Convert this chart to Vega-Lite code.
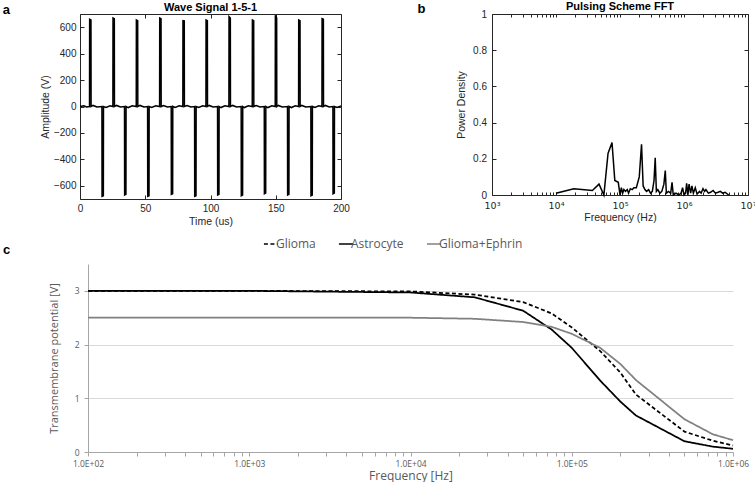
{
  "$schema": "https://vega.github.io/schema/vega-lite/v6.json",
  "background": "white",
  "padding": {"left": 2, "top": 0, "right": 0, "bottom": 0},
  "config": {
    "view": {"stroke": null},
    "title": {"font": "Liberation Sans", "fontSize": 11, "fontWeight": "bold", "color": "#000000", "offset": -9},
    "axis": {
      "labelFont": "Liberation Sans", "labelFontSize": 10, "labelColor": "#262626",
      "titleFont": "Liberation Sans", "titleFontSize": 10.5, "titleFontWeight": "normal", "titleColor": "#262626",
      "tickColor": "#262626", "tickSize": -4, "labelPadding": 8, "domain": false, "grid": false,
      "labelFlush": false, "labelOverlap": false, "titlePadding": 3
    }
  },
  "spacing": 9,
  "columns": 1,
  "align": "none",
  "resolve": {"legend": {"color": "independent", "strokeDash": "independent"}},
  "concat": [
    {
      "spacing": 67,
      "hconcat": [
        {
          "width": 261, "height": 185,
          "view": {"stroke": "#262626", "strokeWidth": 1},
          "title": {"text": "Wave Signal 1-5-1"},
          "resolve": {"axis": {"x": "independent", "y": "independent"}},
          "layer": [
            {
              "data": {"values": [
                {"t":0,"v":0},{"t":3,"v":5},{"t":5,"v":-3},
                {"t":7.3,"v":0},{"t":7.4,"v":660},{"t":8.4,"v":655},{"t":8.5,"v":0},{"t":10,"v":8},{"t":13,"v":-4},
                {"t":16.8,"v":0},{"t":16.9,"v":-680},{"t":17.9,"v":-675},{"t":18.0,"v":0},{"t":20,"v":-8},{"t":23,"v":5},
                {"t":25.2,"v":0},{"t":25.3,"v":670},{"t":26.3,"v":665},{"t":26.4,"v":0},{"t":28,"v":8},{"t":31,"v":-4},
                {"t":34.1,"v":0},{"t":34.2,"v":-670},{"t":35.2,"v":-665},{"t":35.3,"v":0},{"t":37,"v":-8},{"t":40,"v":5},
                {"t":43.1,"v":0},{"t":43.2,"v":655},{"t":44.2,"v":650},{"t":44.3,"v":0},{"t":46,"v":8},{"t":49,"v":-4},
                {"t":51.8,"v":0},{"t":51.9,"v":-680},{"t":52.9,"v":-675},{"t":53.0,"v":0},{"t":55,"v":-8},{"t":58,"v":5},
                {"t":61.0,"v":0},{"t":61.1,"v":670},{"t":62.1,"v":665},{"t":62.2,"v":0},{"t":64,"v":8},{"t":67,"v":-4},
                {"t":69.9,"v":0},{"t":70.0,"v":-665},{"t":71.0,"v":-660},{"t":71.1,"v":0},{"t":73,"v":-8},{"t":76,"v":5},
                {"t":78.8,"v":0},{"t":78.9,"v":650},{"t":79.9,"v":648},{"t":80.0,"v":0},{"t":82,"v":8},{"t":85,"v":-4},
                {"t":87.8,"v":0},{"t":87.9,"v":-680},{"t":88.9,"v":-675},{"t":89.0,"v":0},{"t":91,"v":-8},{"t":94,"v":5},
                {"t":96.5,"v":0},{"t":96.6,"v":655},{"t":97.6,"v":650},{"t":97.7,"v":0},{"t":99,"v":8},{"t":102,"v":-4},
                {"t":105.4,"v":0},{"t":105.5,"v":-670},{"t":106.5,"v":-665},{"t":106.6,"v":0},{"t":108,"v":-8},{"t":111,"v":5},
                {"t":114.1,"v":0},{"t":114.2,"v":680},{"t":115.2,"v":670},{"t":115.3,"v":0},{"t":117,"v":8},{"t":120,"v":-4},
                {"t":123.5,"v":0},{"t":123.6,"v":-675},{"t":124.6,"v":-670},{"t":124.7,"v":0},{"t":126,"v":-8},{"t":129,"v":5},
                {"t":132.0,"v":0},{"t":132.1,"v":655},{"t":133.1,"v":650},{"t":133.2,"v":0},{"t":135,"v":8},{"t":138,"v":-4},
                {"t":141.2,"v":0},{"t":141.3,"v":-660},{"t":142.3,"v":-655},{"t":142.4,"v":0},{"t":144,"v":-8},{"t":147,"v":5},
                {"t":149.6,"v":0},{"t":149.7,"v":690},{"t":150.7,"v":670},{"t":150.8,"v":0},{"t":152,"v":8},{"t":155,"v":-4},
                {"t":159.0,"v":0},{"t":159.1,"v":-670},{"t":160.1,"v":-665},{"t":160.2,"v":0},{"t":162,"v":-8},{"t":165,"v":5},
                {"t":167.5,"v":0},{"t":167.6,"v":655},{"t":168.6,"v":650},{"t":168.7,"v":0},{"t":170,"v":8},{"t":173,"v":-4},
                {"t":176.9,"v":0},{"t":177.0,"v":-675},{"t":178.0,"v":-670},{"t":178.1,"v":0},{"t":180,"v":-8},{"t":183,"v":5},
                {"t":185.4,"v":0},{"t":185.5,"v":665},{"t":186.5,"v":660},{"t":186.6,"v":0},{"t":188,"v":8},{"t":191,"v":-4},
                {"t":193.8,"v":0},{"t":193.9,"v":-660},{"t":194.9,"v":-655},{"t":195.0,"v":0},{"t":197,"v":-8},{"t":200,"v":5}
              ]},
              "mark": {"type": "line", "color": "#000000", "strokeWidth": 1.5},
              "encoding": {
                "x": {"field": "t", "type": "quantitative", "scale": {"domain": [0, 200], "nice": false},
                      "axis": {"orient": "bottom", "values": [0, 50, 100, 150, 200], "format": ".0f", "title": "Time (us)"}},
                "y": {"field": "v", "type": "quantitative", "scale": {"domain": [-700, 700], "nice": false},
                      "axis": {"orient": "left", "values": [-600, -400, -200, 0, 200, 400, 600], "format": ".0f", "title": "Amplitude (V)"}}
              }
            },
            {
              "data": {"values": [{"panel": "a"}]},
              "mark": {"type": "text", "font": "Liberation Sans", "fontSize": 13, "fontWeight": "bold", "align": "left", "baseline": "alphabetic", "color": "#000000"},
              "encoding": {
                "text": {"field": "panel"},
                "x": {"datum": -59.2, "type": "quantitative", "axis": {"orient": "top", "values": [0, 50, 100, 150, 200], "labels": false, "title": null}},
                "y": {"datum": 702, "type": "quantitative", "axis": {"orient": "right", "values": [-600, -400, -200, 0, 200, 400, 600], "labels": false, "title": null}}
              }
            }
          ]
        },
        {
          "width": 256, "height": 181,
          "view": {"stroke": "#262626", "strokeWidth": 1},
          "title": {"text": "Pulsing Scheme FFT"},
          "resolve": {"axis": {"x": "independent", "y": "independent"}},
          "layer": [
            {
              "data": {"values": [
                {"f":10000,"p":0.01},{"f":19000,"p":0.035},{"f":37000,"p":0.025},{"f":47000,"p":0.06},{"f":56000,"p":0.0},
                {"f":65000,"p":0.23},{"f":75000,"p":0.29},{"f":83000,"p":0.08},{"f":94000,"p":0.07},{"f":100000,"p":0.0},
                {"f":105000,"p":0.04},{"f":110000,"p":0.01},{"f":115000,"p":0.03},{"f":122000,"p":0.02},{"f":130000,"p":0.03},
                {"f":136000,"p":0.01},{"f":145000,"p":0.035},{"f":155000,"p":0.03},{"f":165000,"p":0.04},{"f":180000,"p":0.04},
                {"f":200000,"p":0.1},{"f":217000,"p":0.28},{"f":230000,"p":0.05},{"f":245000,"p":0.03},{"f":260000,"p":0.02},
                {"f":280000,"p":0.03},{"f":300000,"p":0.01},{"f":320000,"p":0.02},{"f":340000,"p":0.08},{"f":355000,"p":0.205},
                {"f":370000,"p":0.02},{"f":390000,"p":0.03},{"f":420000,"p":0.01},{"f":450000,"p":0.02},{"f":485000,"p":0.06},
                {"f":510000,"p":0.135},{"f":530000,"p":0.01},{"f":570000,"p":0.02},{"f":620000,"p":0.01},{"f":650000,"p":0.07},
                {"f":680000,"p":0.0},{"f":750000,"p":0.01},{"f":830000,"p":0.0},{"f":900000,"p":0.01},{"f":950000,"p":0.04},
                {"f":1000000,"p":0.0},{"f":1060000,"p":0.01},{"f":1100000,"p":0.065},{"f":1150000,"p":0.0},{"f":1200000,"p":0.06},
                {"f":1270000,"p":0.01},{"f":1330000,"p":0.05},{"f":1400000,"p":0.01},{"f":1500000,"p":0.04},{"f":1600000,"p":0.005},
                {"f":1750000,"p":0.02},{"f":1850000,"p":0.01},{"f":1980000,"p":0.035},{"f":2100000,"p":0.02},{"f":2200000,"p":0.03},
                {"f":2400000,"p":0.01},{"f":2600000,"p":0.015},{"f":2850000,"p":0.025},{"f":3100000,"p":0.01},{"f":3400000,"p":0.015},
                {"f":3700000,"p":0.02},{"f":4000000,"p":0.01},{"f":4400000,"p":0.015},{"f":5000000,"p":0.0}
              ]},
              "mark": {"type": "line", "color": "#000000", "strokeWidth": 1.5},
              "encoding": {
                "x": {"field": "f", "type": "quantitative", "scale": {"type": "log", "domain": [1000, 10000000]},
                      "axis": {"orient": "bottom", "tickSize": -3, "labelPadding": 8, "title": "Frequency (Hz)", "labelFont": "DejaVu Sans", "labelFontSize": 9.5,
                               "values": [1000,2000,3000,4000,5000,6000,7000,8000,9000,10000,20000,30000,40000,50000,60000,70000,80000,90000,100000,200000,300000,400000,500000,600000,700000,800000,900000,1000000,2000000,3000000,4000000,5000000,6000000,7000000,8000000,9000000,10000000],
                               "labelExpr": "datum.value == 1000 ? '10³' : datum.value == 10000 ? '10⁴' : datum.value == 100000 ? '10⁵' : datum.value == 1000000 ? '10⁶' : datum.value == 10000000 ? '10⁷' : ''"}},
                "y": {"field": "p", "type": "quantitative", "scale": {"domain": [0, 1], "nice": false},
                      "axis": {"orient": "left", "values": [0, 0.2, 0.4, 0.6, 0.8, 1], "format": ".1~f", "labelPadding": 9.5, "titlePadding": 6, "title": "Power Density"}}
              }
            },
            {
              "data": {"values": [{"panel": "b"}]},
              "mark": {"type": "text", "font": "Liberation Sans", "fontSize": 13, "fontWeight": "bold", "align": "left", "baseline": "alphabetic", "color": "#000000"},
              "encoding": {
                "text": {"field": "panel"},
                "x": {"datum": 68.8, "type": "quantitative", "axis": {"orient": "top", "tickSize": -3, "labels": false, "title": null,
                      "values": [1000,2000,3000,4000,5000,6000,7000,8000,9000,10000,20000,30000,40000,50000,60000,70000,80000,90000,100000,200000,300000,400000,500000,600000,700000,800000,900000,1000000,2000000,3000000,4000000,5000000,6000000,7000000,8000000,9000000,10000000]}},
                "y": {"datum": 1.003, "type": "quantitative", "axis": {"orient": "right", "values": [0, 0.2, 0.4, 0.6, 0.8, 1], "labels": false, "title": null}}
              }
            }
          ]
        }
      ]
    },
    {
      "width": 653, "height": 188,
      "view": {"stroke": null},
      "layer": [
        {
          "data": {"values": [
            {"f":100,"y":3.0,"series":"Glioma"},{"f":1000,"y":3.0,"series":"Glioma"},{"f":10000,"y":2.99,"series":"Glioma"},
            {"f":25000,"y":2.93,"series":"Glioma"},{"f":50000,"y":2.79,"series":"Glioma"},{"f":75000,"y":2.58,"series":"Glioma"},
            {"f":100000,"y":2.32,"series":"Glioma"},{"f":150000,"y":1.88,"series":"Glioma"},{"f":200000,"y":1.48,"series":"Glioma"},
            {"f":250000,"y":1.07,"series":"Glioma"},{"f":500000,"y":0.38,"series":"Glioma"},{"f":750000,"y":0.21,"series":"Glioma"},
            {"f":1000000,"y":0.12,"series":"Glioma"},
            {"f":100,"y":3.0,"series":"Astrocyte"},{"f":1000,"y":3.0,"series":"Astrocyte"},{"f":10000,"y":2.97,"series":"Astrocyte"},
            {"f":25000,"y":2.88,"series":"Astrocyte"},{"f":50000,"y":2.63,"series":"Astrocyte"},{"f":75000,"y":2.28,"series":"Astrocyte"},
            {"f":100000,"y":1.94,"series":"Astrocyte"},{"f":150000,"y":1.33,"series":"Astrocyte"},{"f":200000,"y":0.94,"series":"Astrocyte"},
            {"f":250000,"y":0.68,"series":"Astrocyte"},{"f":500000,"y":0.2,"series":"Astrocyte"},{"f":750000,"y":0.1,"series":"Astrocyte"},
            {"f":1000000,"y":0.06,"series":"Astrocyte"},
            {"f":100,"y":2.5,"series":"Glioma+Ephrin"},{"f":1000,"y":2.5,"series":"Glioma+Ephrin"},{"f":10000,"y":2.5,"series":"Glioma+Ephrin"},
            {"f":25000,"y":2.48,"series":"Glioma+Ephrin"},{"f":50000,"y":2.42,"series":"Glioma+Ephrin"},{"f":75000,"y":2.33,"series":"Glioma+Ephrin"},
            {"f":100000,"y":2.2,"series":"Glioma+Ephrin"},{"f":150000,"y":1.94,"series":"Glioma+Ephrin"},{"f":200000,"y":1.64,"series":"Glioma+Ephrin"},
            {"f":250000,"y":1.34,"series":"Glioma+Ephrin"},{"f":500000,"y":0.61,"series":"Glioma+Ephrin"},{"f":750000,"y":0.33,"series":"Glioma+Ephrin"},
            {"f":1000000,"y":0.22,"series":"Glioma+Ephrin"}
          ]},
          "mark": {"type": "line", "strokeWidth": 1.75},
          "encoding": {
            "x": {"field": "f", "type": "quantitative", "scale": {"type": "log", "domain": [100, 1000000], "range": [8, 653]},
                  "axis": {"values": [100,200,300,400,500,600,700,800,900,1000,2000,3000,4000,5000,6000,7000,8000,9000,10000,20000,30000,40000,50000,60000,70000,80000,90000,100000,200000,300000,400000,500000,600000,700000,800000,900000,1000000],
                           "labelExpr": "abs(log(datum.value)/LN10 - round(log(datum.value)/LN10)) < 0.001 ? '1.0E+0' + round(log(datum.value)/LN10) : ''",
                           "title": "Frequency [Hz]", "domain": true, "domainColor": "#a6a6a6", "tickColor": "#a6a6a6", "tickSize": 4, "labelPadding": 3,
                           "labelFont": "Open Sans", "labelFontSize": 8.5, "labelColor": "#595959",
                           "titleFont": "Open Sans", "titleFontSize": 12, "titleColor": "#595959", "titlePadding": 3}},
            "y": {"field": "y", "type": "quantitative", "scale": {"domain": [0, 3.5], "nice": false},
                  "axis": {"offset": -8, "values": [0,0.25,0.5,0.75,1,1.25,1.5,1.75,2,2.25,2.5,2.75,3,3.25,3.5],
                           "labelExpr": "datum.value % 0.5 == 0 ? format(datum.value, '.1~f') : ''",
                           "title": "Transmembrane potential [V]", "domain": true, "domainColor": "#a6a6a6", "tickColor": "#a6a6a6", "tickSize": 4, "labelPadding": 5,
                           "grid": true, "gridColor": "#d9d9d9", "gridOpacity": {"condition": {"test": "datum.value % 0.5 == 0 && datum.value > 0", "value": 1}, "value": 0},
                           "labelFont": "Open Sans", "labelFontSize": 8.5, "labelColor": "#595959",
                           "titleFont": "Open Sans", "titleFontSize": 11, "titleColor": "#595959", "titlePadding": 15}},
            "color": {"field": "series", "type": "nominal",
                      "scale": {"domain": ["Glioma", "Astrocyte", "Glioma+Ephrin"], "range": ["#000000", "#000000", "#808080"]},
                      "legend": {"orient": "none", "legendX": 183, "legendY": -28, "direction": "horizontal", "title": null,
                                 "symbolType": "stroke", "symbolSize": 200, "symbolStrokeWidth": 1.5, "labelOffset": -3, "columnPadding": 19,
                                 "labelFont": "Open Sans", "labelFontSize": 12, "labelColor": "#595959"}},
            "strokeDash": {"field": "series", "type": "nominal",
                           "scale": {"domain": ["Glioma", "Astrocyte", "Glioma+Ephrin"], "range": [[4, 2.5], [1, 0], [1, 0]]},
                           "legend": {"orient": "none", "legendX": 183, "legendY": -28, "direction": "horizontal", "title": null,
                                      "symbolType": "stroke", "symbolSize": 200, "symbolStrokeWidth": 1.5, "labelOffset": -3, "columnPadding": 19,
                                      "labelFont": "Open Sans", "labelFontSize": 12, "labelColor": "#595959"}}
          }
        },
        {
          "data": {"values": [{"panel": "c"}]},
          "mark": {"type": "text", "font": "Liberation Sans", "fontSize": 13, "fontWeight": "bold", "align": "left", "baseline": "alphabetic", "color": "#000000"},
          "encoding": {
            "text": {"field": "panel"},
            "x": {"datum": 29.7, "type": "quantitative"},
            "y": {"datum": 3.695, "type": "quantitative"}
          }
        }
      ]
    }
  ]
}
